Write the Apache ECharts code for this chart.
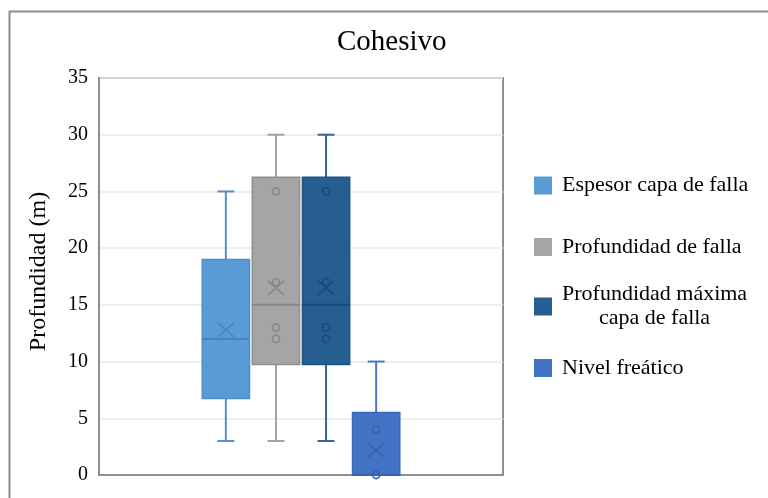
<!DOCTYPE html>
<html>
<head>
<meta charset="utf-8">
<script src="https://cdn.jsdelivr.net/npm/echarts@6/dist/echarts.min.js"></script>
<style>
  html, body { margin: 0; padding: 0; background: #ffffff; }
  #chart { width: 768px; height: 498px; }
</style>
</head>
<body>
<div id="chart"></div>
<script>
// Box-and-whisker summary for cohesive soils (depths in metres)
const categories = ['Cohesivo'];
const seriesNames = ['Espesor capa de falla', 'Profundidad de falla', 'Profundidad máxima capa de falla', 'Nivel freático'];
const minValues = [3, 3, 3, 0];
const q1Values = [6.75, 9.75, 9.75, 0];
const medianValues = [12, 15, 15, 0];
const q3Values = [19, 26.25, 26.25, 5.5];
const maxValues = [25, 30, 30, 10];
const meanValues = [12.8, 16.5, 16.5, 2.2];
const innerPoints = [[], [12, 13, 17, 25], [12, 13, 17, 25], [0, 4]];
const yTicks = [0, 5, 10, 15, 20, 25, 30, 35];

const palette = [
  { fill: '#5B9BD5', border: '#4F8DCB', whisker: '#5A8DC8', inner: '#4A83BF' },
  { fill: '#A5A5A5', border: '#8E8E8E', whisker: '#A3A3A3', inner: '#878787' },
  { fill: '#255E91', border: '#21557F', whisker: '#30659A', inner: '#1C4A76' },
  { fill: '#4472C4', border: '#3D68B5', whisker: '#4A78C8', inner: '#3862AD' }
];

const serifFont = '"Liberation Serif", "Times New Roman", serif';

function makeRenderer(idx) {
  return function (params, api) {
    const c = palette[idx];
    const cat = api.value(0);
    const band = api.size([1, 0])[0];
    const cx = api.coord([cat, 0])[0] + (idx - 1.5) * band * 0.124;
    const half = band * 0.117 / 2;
    const capHalf = 8.5;
    const y = v => api.coord([cat, v])[1];
    const yMin = y(api.value(1));
    const yQ1 = y(api.value(2));
    const yMed = y(api.value(3));
    const yQ3 = y(api.value(4));
    const yMax = y(api.value(5));
    const yMean = y(api.value(6));
    const whisker = { stroke: c.whisker, lineWidth: 2 };
    const inner = { stroke: c.inner, lineWidth: 1.6, fill: null };
    const children = [
      { type: 'line', shape: { x1: cx, y1: yQ3, x2: cx, y2: yMax }, style: whisker },
      { type: 'line', shape: { x1: cx - capHalf, y1: yMax, x2: cx + capHalf, y2: yMax }, style: whisker },
      { type: 'line', shape: { x1: cx, y1: yQ1, x2: cx, y2: yMin }, style: whisker },
      { type: 'line', shape: { x1: cx - capHalf, y1: yMin, x2: cx + capHalf, y2: yMin }, style: whisker },
      { type: 'rect', shape: { x: cx - half, y: yQ3, width: half * 2, height: yQ1 - yQ3 },
        style: { fill: c.fill, stroke: c.border, lineWidth: 1.5 } },
      { type: 'line', shape: { x1: cx - half, y1: yMed, x2: cx + half, y2: yMed },
        style: { stroke: c.inner, lineWidth: 2 } },
      { type: 'line', shape: { x1: cx - 8, y1: yMean - 7, x2: cx + 8, y2: yMean + 7 }, style: inner },
      { type: 'line', shape: { x1: cx - 8, y1: yMean + 7, x2: cx + 8, y2: yMean - 7 }, style: inner }
    ];
    innerPoints[idx].forEach(p => {
      children.push({ type: 'circle', shape: { cx: cx, cy: y(p), r: 3.6 }, style: inner });
    });
    return { type: 'group', children: children };
  };
}

const series = seriesNames.map((name, i) => ({
  name: name,
  type: 'custom',
  renderItem: makeRenderer(i),
  itemStyle: { color: palette[i].fill },
  encode: { x: 0, y: [1, 2, 3, 4, 5] },
  data: [[0, minValues[i], q1Values[i], medianValues[i], q3Values[i], maxValues[i], meanValues[i]]]
}));

// One legend block per entry so each row can sit at its own height
const legendTops = [174.5, 236, 283.5, 357];
const legends = seriesNames.map((name, i) => ({
  orient: 'vertical',
  left: 534,
  top: legendTops[i],
  padding: 0,
  itemWidth: 18,
  itemHeight: 18,
  icon: 'rect',
  selectedMode: false,
  data: [name],
  formatter: function (n) {
    if (n === 'Profundidad máxima capa de falla') {
      return '{c|Profundidad máxima}\n{c|capa de falla}';
    }
    return '{t|' + n + '}';
  },
  textStyle: {
    fontFamily: serifFont,
    fontSize: 22,
    color: '#000000',
    rich: {
      t: { fontFamily: serifFont, fontSize: 22, lineHeight: 22, color: '#000000', padding: [0, 0, 0, 5] },
      c: { fontFamily: serifFont, fontSize: 22, lineHeight: 24, color: '#000000', align: 'center', padding: [0, 0, 0, 5] }
    }
  }
}));

const chart = echarts.init(document.getElementById('chart'), null, { renderer: 'canvas' });
chart.setOption({
  backgroundColor: '#ffffff',
  animation: false,
  title: {
    text: 'Cohesivo',
    left: 337,
    top: 28,
    padding: 0,
    textStyle: { fontFamily: serifFont, fontSize: 29, fontWeight: 'normal', color: '#000000' }
  },
  graphic: [{
    type: 'rect',
    shape: { x: 9.5, y: 11.5, width: 800, height: 600 },
    style: { fill: null, stroke: '#8C8C8C', lineWidth: 2 },
    silent: true
  }],
  legend: legends,
  grid: {
    left: 99,
    right: 265,
    top: 78,
    bottom: 23,
    show: true,
    borderColor: '#8F8F8F',
    borderWidth: 2,
    backgroundColor: 'transparent'
  },
  xAxis: {
    type: 'category',
    data: categories,
    axisLine: { show: true, lineStyle: { color: '#8F8F8F', width: 2 } },
    axisTick: { show: false },
    axisLabel: { show: false },
    splitLine: { show: false }
  },
  yAxis: {
    type: 'value',
    min: yTicks[0],
    max: yTicks[yTicks.length - 1],
    interval: 5,
    name: 'Profundidad (m)',
    nameLocation: 'middle',
    nameGap: 48,
    nameTextStyle: { fontFamily: serifFont, fontSize: 24, color: '#000000', padding: [0, 0, 0, 10] },
    axisLine: { show: true, lineStyle: { color: '#8F8F8F', width: 2 } },
    axisTick: { show: false },
    axisLabel: { fontFamily: serifFont, fontSize: 20, color: '#000000', margin: 11 },
    splitLine: { show: true, lineStyle: { color: '#E8E8E8', width: 1.5 } }
  },
  series: series
});
</script>
</body>
</html>
